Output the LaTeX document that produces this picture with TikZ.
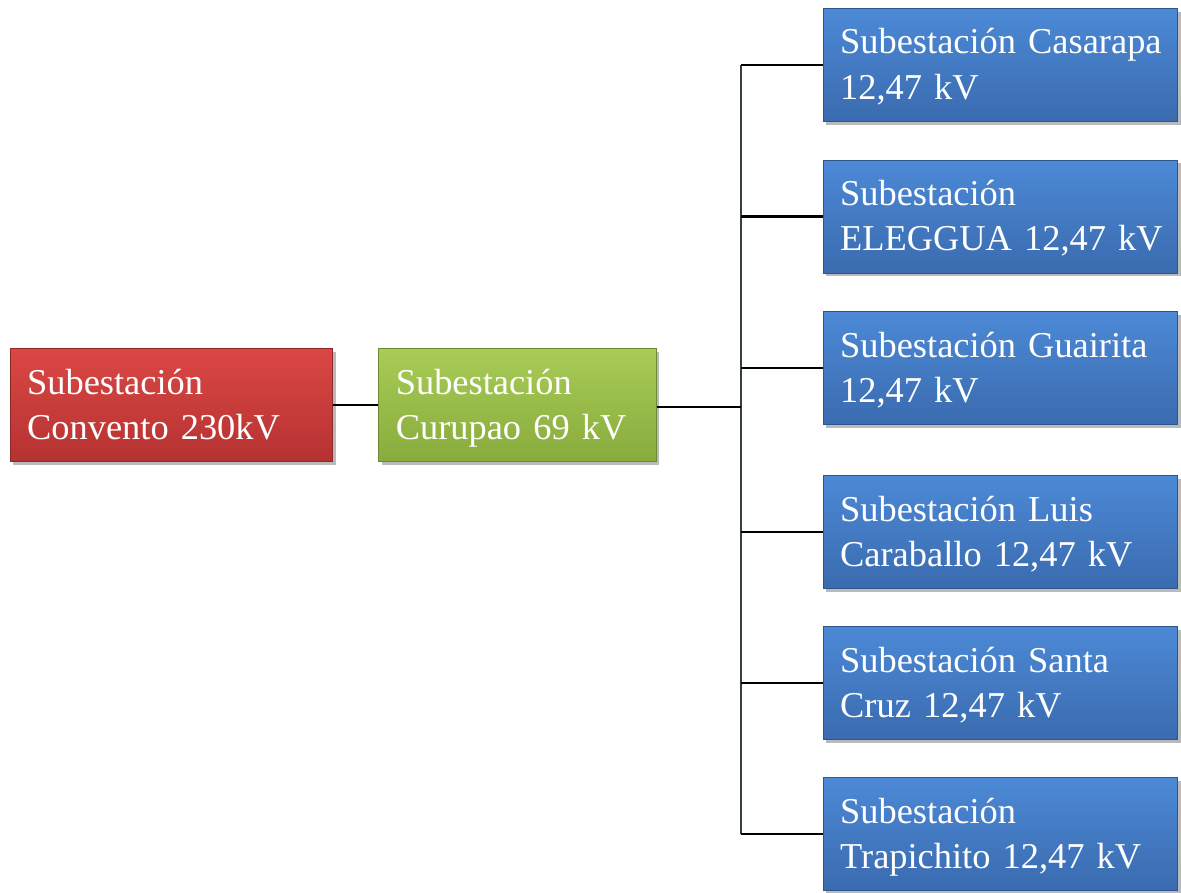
\documentclass[tikz,border=0pt]{standalone}
\usepackage{fontspec}
\setmainfont{Liberation Serif}
\usetikzlibrary{shadows}
\definecolor{redtop}{HTML}{DA4744}
\definecolor{redbot}{HTML}{B53232}
\definecolor{greentop}{HTML}{A8CC55}
\definecolor{greenbot}{HTML}{88AB3E}
\definecolor{bluetop}{HTML}{4C89D6}
\definecolor{bluebot}{HTML}{3A6BAF}
\definecolor{trunk}{HTML}{34403F}
\tikzset{
  px/.style={x=0.75pt,y=-0.75pt},
  station/.style={rectangle, minimum height=84.75pt, inner xsep=0pt, inner ysep=0pt,
    text=white, align=left, font=\fontsize{27.3}{34}\selectfont,
    execute at begin node={\leftskip=12.75pt\rule{0pt}{24pt}},
    execute at end node={\rule[-6.5pt]{0pt}{6.5pt}},
    drop shadow={shadow xshift=2pt, shadow yshift=-2.5pt, fill=black!45, opacity=0.6}},
  redbox/.style={station, top color=redtop, bottom color=redbot, draw=redbot!80!black, line width=0.6pt,
    minimum width=242pt, text width=242pt},
  greenbox/.style={station, top color=greentop, bottom color=greenbot, draw=greenbot!80!black, line width=0.6pt,
    minimum width=208pt, text width=208pt},
  bluebox/.style={station, top color=bluetop, bottom color=bluebot, draw=bluebot!80!black, line width=0.6pt,
    minimum width=266pt, text width=266pt},
  link/.style={line width=2.2pt, black},
  spine/.style={line width=2pt, trunk}
}
\begin{document}
\begin{tikzpicture}[px]
\useasboundingbox (0,0) rectangle (1181,892);
% source and intermediate substations
\node[redbox] (conv) at (171.5,405) {Subestación\\Convento 230kV};
\node[greenbox] (curu) at (517.5,405) {Subestación\\Curupao 69 kV};
% distribution substations
\node[bluebox] (b1) at (1000.5,65) {Subestación Casarapa\\12,47 kV};
\node[bluebox] (b2) at (1000.5,216.5) {Subestación\\ELEGGUA 12,47 kV};
\node[bluebox] (b3) at (1000.5,368) {Subestación Guairita\\12,47 kV};
\node[bluebox] (b4) at (1000.5,532) {Subestación Luis\\Caraballo 12,47 kV};
\node[bluebox] (b5) at (1000.5,683) {Subestación Santa\\Cruz 12,47 kV};
\node[bluebox] (b6) at (1000.5,834) {Subestación\\Trapichito 12,47 kV};
% bus bar
\coordinate (top) at (741,65);
\coordinate (bot) at (741,834);
\coordinate (hub) at (741,407);
\draw[spine] (top) -- (bot);
% connectors
\draw[link] (conv.east) -- (curu.west);
\draw[link] (curu.east |- hub) -- (hub);
\foreach \n in {b1,b2,b3,b4,b5,b6}
  \draw[link] (top |- \n.west) -- (\n.west);
\end{tikzpicture}
\end{document}
